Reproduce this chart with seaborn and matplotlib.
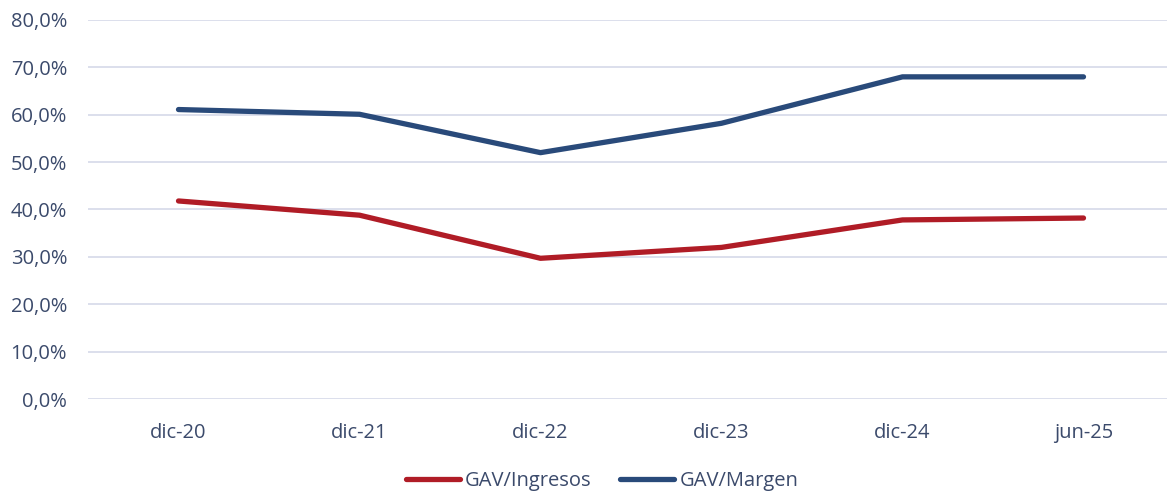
"""
GAV sobre ingresos y margen
"""
import pandas as pd
import matplotlib
matplotlib.use("Agg")
import matplotlib.pyplot as plt
import seaborn as sns
from matplotlib.ticker import FuncFormatter

# Datos
periodos = ["dic-20", "dic-21", "dic-22", "dic-23", "dic-24", "jun-25"]
gav_ingresos = [41.8, 38.8, 29.7, 32.0, 37.8, 38.2]
gav_margen = [61.1, 60.1, 52.0, 58.2, 68.0, 68.0]
series = ["GAV/Ingresos", "GAV/Margen"]
colores = ["#B01C26", "#294A7A"]

sns.set_style("white")
plt.rcParams['font.family'] = ['Open Sans', 'DejaVu Sans']
color_texto = "#3B4A6B"
tam = 14.5

df = pd.DataFrame({
    "periodo": periodos * 2,
    "valor": gav_ingresos + gav_margen,
    "serie": [series[0]] * len(periodos) + [series[1]] * len(periodos),
})

fig = plt.figure(figsize=(11.67, 4.98), dpi=100)
ax = fig.add_axes([88 / 1167, 99 / 498, 1086 / 1167, 379 / 498])

sns.lineplot(data=df, x="periodo", y="valor", hue="serie",
             palette=dict(zip(series, colores)), linewidth=3.8,
             solid_capstyle='round', sort=False, ax=ax)

ax.set_xlim(-0.5, len(periodos) - 0.5)
ax.set_ylim(0, 80)
ax.set_yticks(range(0, 81, 10))
ax.yaxis.set_major_formatter(FuncFormatter(lambda v, p: f"{v:.1f}%".replace(".", ",")))
ax.grid(axis='y', color="#D9DCEB", linewidth=1.3)
ax.grid(axis='x', visible=False)
for s in ax.spines.values():
    s.set_visible(False)
ax.tick_params(axis='both', length=0, labelsize=tam, labelcolor=color_texto)
ax.tick_params(axis='x', pad=17)
ax.tick_params(axis='y', pad=15)
ax.set_xlabel("")
ax.set_ylabel("")

leg = ax.legend(loc='center', bbox_to_anchor=(602 / 1167, 17 / 498),
                bbox_transform=fig.transFigure, ncol=2, frameon=False,
                fontsize=tam, handlelength=2.7, handletextpad=0.25,
                columnspacing=1.4)
for t in leg.get_texts():
    t.set_color(color_texto)
for l in leg.get_lines():
    l.set_linewidth(3.8)

fig.savefig("out.png", dpi=100)
